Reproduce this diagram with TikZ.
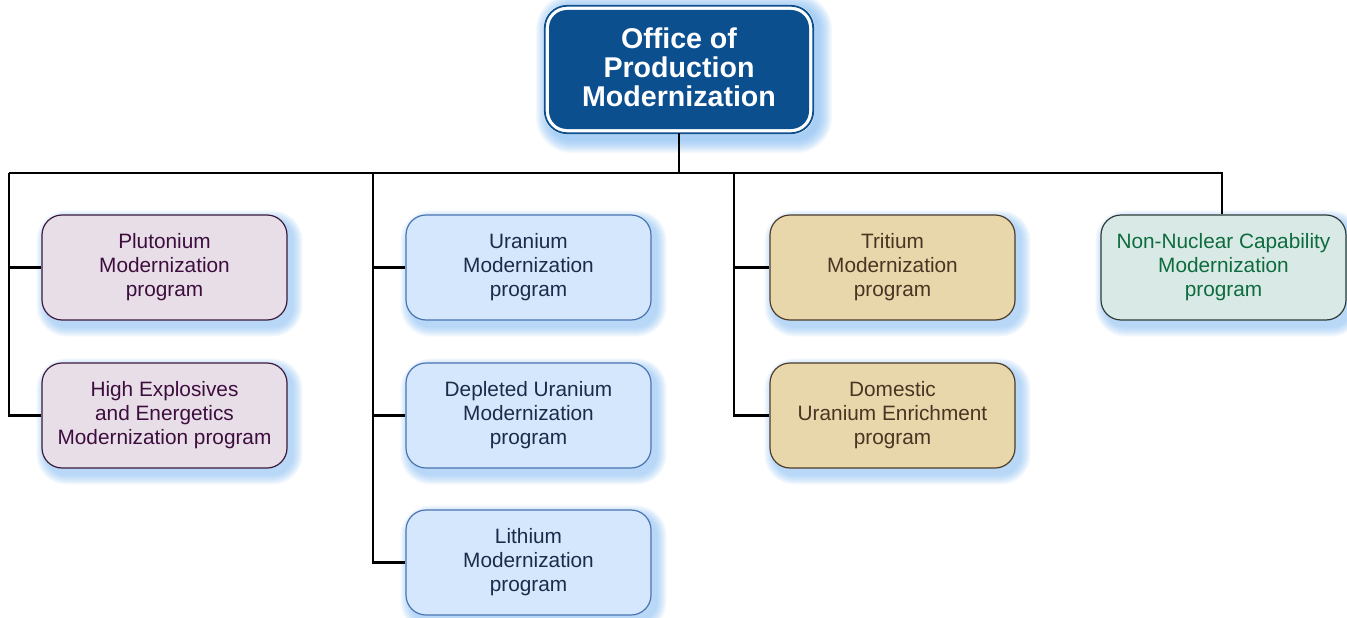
\documentclass[tikz,border=0pt]{standalone}
\usepackage{fontspec}
\setmainfont{Liberation Sans}
\usetikzlibrary{calc}
\pgfdeclarelayer{bg}
\pgfsetlayers{bg,main}
\definecolor{topblue}{HTML}{0B4F8F}
\definecolor{glowc}{HTML}{78B4F0}
\definecolor{puFill}{HTML}{E8DEE8}\definecolor{puLine}{HTML}{3B1A3B}\definecolor{puText}{HTML}{3D0E3D}
\definecolor{urFill}{HTML}{D5E7FC}\definecolor{urLine}{HTML}{4A74B0}\definecolor{urText}{HTML}{1C2B4A}
\definecolor{trFill}{HTML}{E7D7AA}\definecolor{trLine}{HTML}{4D3B2B}\definecolor{trText}{HTML}{4A3423}
\definecolor{nnFill}{HTML}{D9EAE6}\definecolor{nnLine}{HTML}{2E3B38}\definecolor{nnText}{HTML}{0E6B3E}
\tikzset{
  prog/.style={rounded corners=20pt, minimum width=245pt, minimum height=105pt, align=center, line width=1.2pt, inner sep=0pt,
    font=\fontsize{20.8}{24}\selectfont},
  pu/.style={prog, draw=puLine, fill=puFill, text=puText},
  ur/.style={prog, draw=urLine, fill=urFill, text=urText},
  tr/.style={prog, draw=trLine, fill=trFill, text=trText},
  nn/.style={prog, draw=nnLine, fill=nnFill, text=nnText},
  topbox/.style={rounded corners=18pt, minimum width=260pt, minimum height=119pt, fill=topblue, inner sep=0pt},
  toptext/.style={align=center, text=white, inner sep=0pt, font=\fontsize{28.6}{29}\selectfont\bfseries},
  conn/.style={line width=2.4pt, black, line join=miter},
}
\begin{document}
\begin{tikzpicture}[x=1pt,y=-1pt]
\useasboundingbox (0,0) rectangle (1347,618);
\node[topbox] (top) at (679,69.5) {};
\node[toptext] (toptxt) at (679,67.5) {Office of\\Production\\Modernization};
\node[pu] (pl) at (164.5,267.5) {Plutonium\\Modernization\\program};
\node[pu] (he) at (164.5,415.5) {High Explosives\\and Energetics\\Modernization program};
\node[ur] (ur) at (528.5,267.5) {Uranium\\Modernization\\program};
\node[ur] (du) at (528.5,415.5) {Depleted Uranium\\Modernization\\program};
\node[ur] (li) at (528.5,562.5) {Lithium\\Modernization\\program};
\node[tr] (tr) at (892.5,267.5) {Tritium\\Modernization\\program};
\node[tr] (de) at (892.5,415.5) {Domestic\\Uranium Enrichment\\program};
\node[nn] (nn) at (1223.5,267.5) {Non-Nuclear Capability\\Modernization\\program};
\draw[topblue, line width=1.8pt, rounded corners=22pt] ([xshift=-4pt,yshift=4pt]top.north west) rectangle ([xshift=4pt,yshift=-4pt]top.south east);
\begin{pgfonlayer}{bg}
  \foreach \n in {pl,he,ur,du,li,tr,de,nn}{
    \foreach \i in {1,...,10}{
      \pgfmathsetmacro{\rc}{20+\i}
      \fill[glowc, opacity=0.07, rounded corners=\rc pt]
        ([xshift={5-\i}, yshift={-6+\i}]\n.north west) rectangle ([xshift={5+\i}, yshift={-6-\i}]\n.south east);
    }
  }
  \foreach \i in {1,...,14}{
    \pgfmathsetmacro{\rc}{22+\i}
    \fill[glowc, opacity=0.07, rounded corners=\rc pt]
      ([xshift={1-\i}, yshift={2+\i}]top.north west) rectangle ([xshift={9+\i}, yshift={-10-\i}]top.south east);
  }
  \fill[white, rounded corners=22pt] ([xshift=-5pt,yshift=5pt]top.north west) rectangle ([xshift=5pt,yshift=-5pt]top.south east);
\end{pgfonlayer}
\coordinate (b1) at (9,173);
\coordinate (b2) at (373,173);
\coordinate (b3) at (734,173);
\coordinate (b4) at (1222,173);
\draw[conn] (top.south) ++(0,4) -- (top.south |- b1);
\draw[conn] (b1) -- (b4) -- (b4 |- nn.north);
\draw[conn] (b1) |- (he.west);
\draw[conn] (b1 |- pl.west) -- (pl.west);
\draw[conn] (b2) |- (li.west);
\draw[conn] (b2 |- ur.west) -- (ur.west);
\draw[conn] (b2 |- du.west) -- (du.west);
\draw[conn] (b3) |- (de.west);
\draw[conn] (b3 |- tr.west) -- (tr.west);
\end{tikzpicture}
\end{document}
